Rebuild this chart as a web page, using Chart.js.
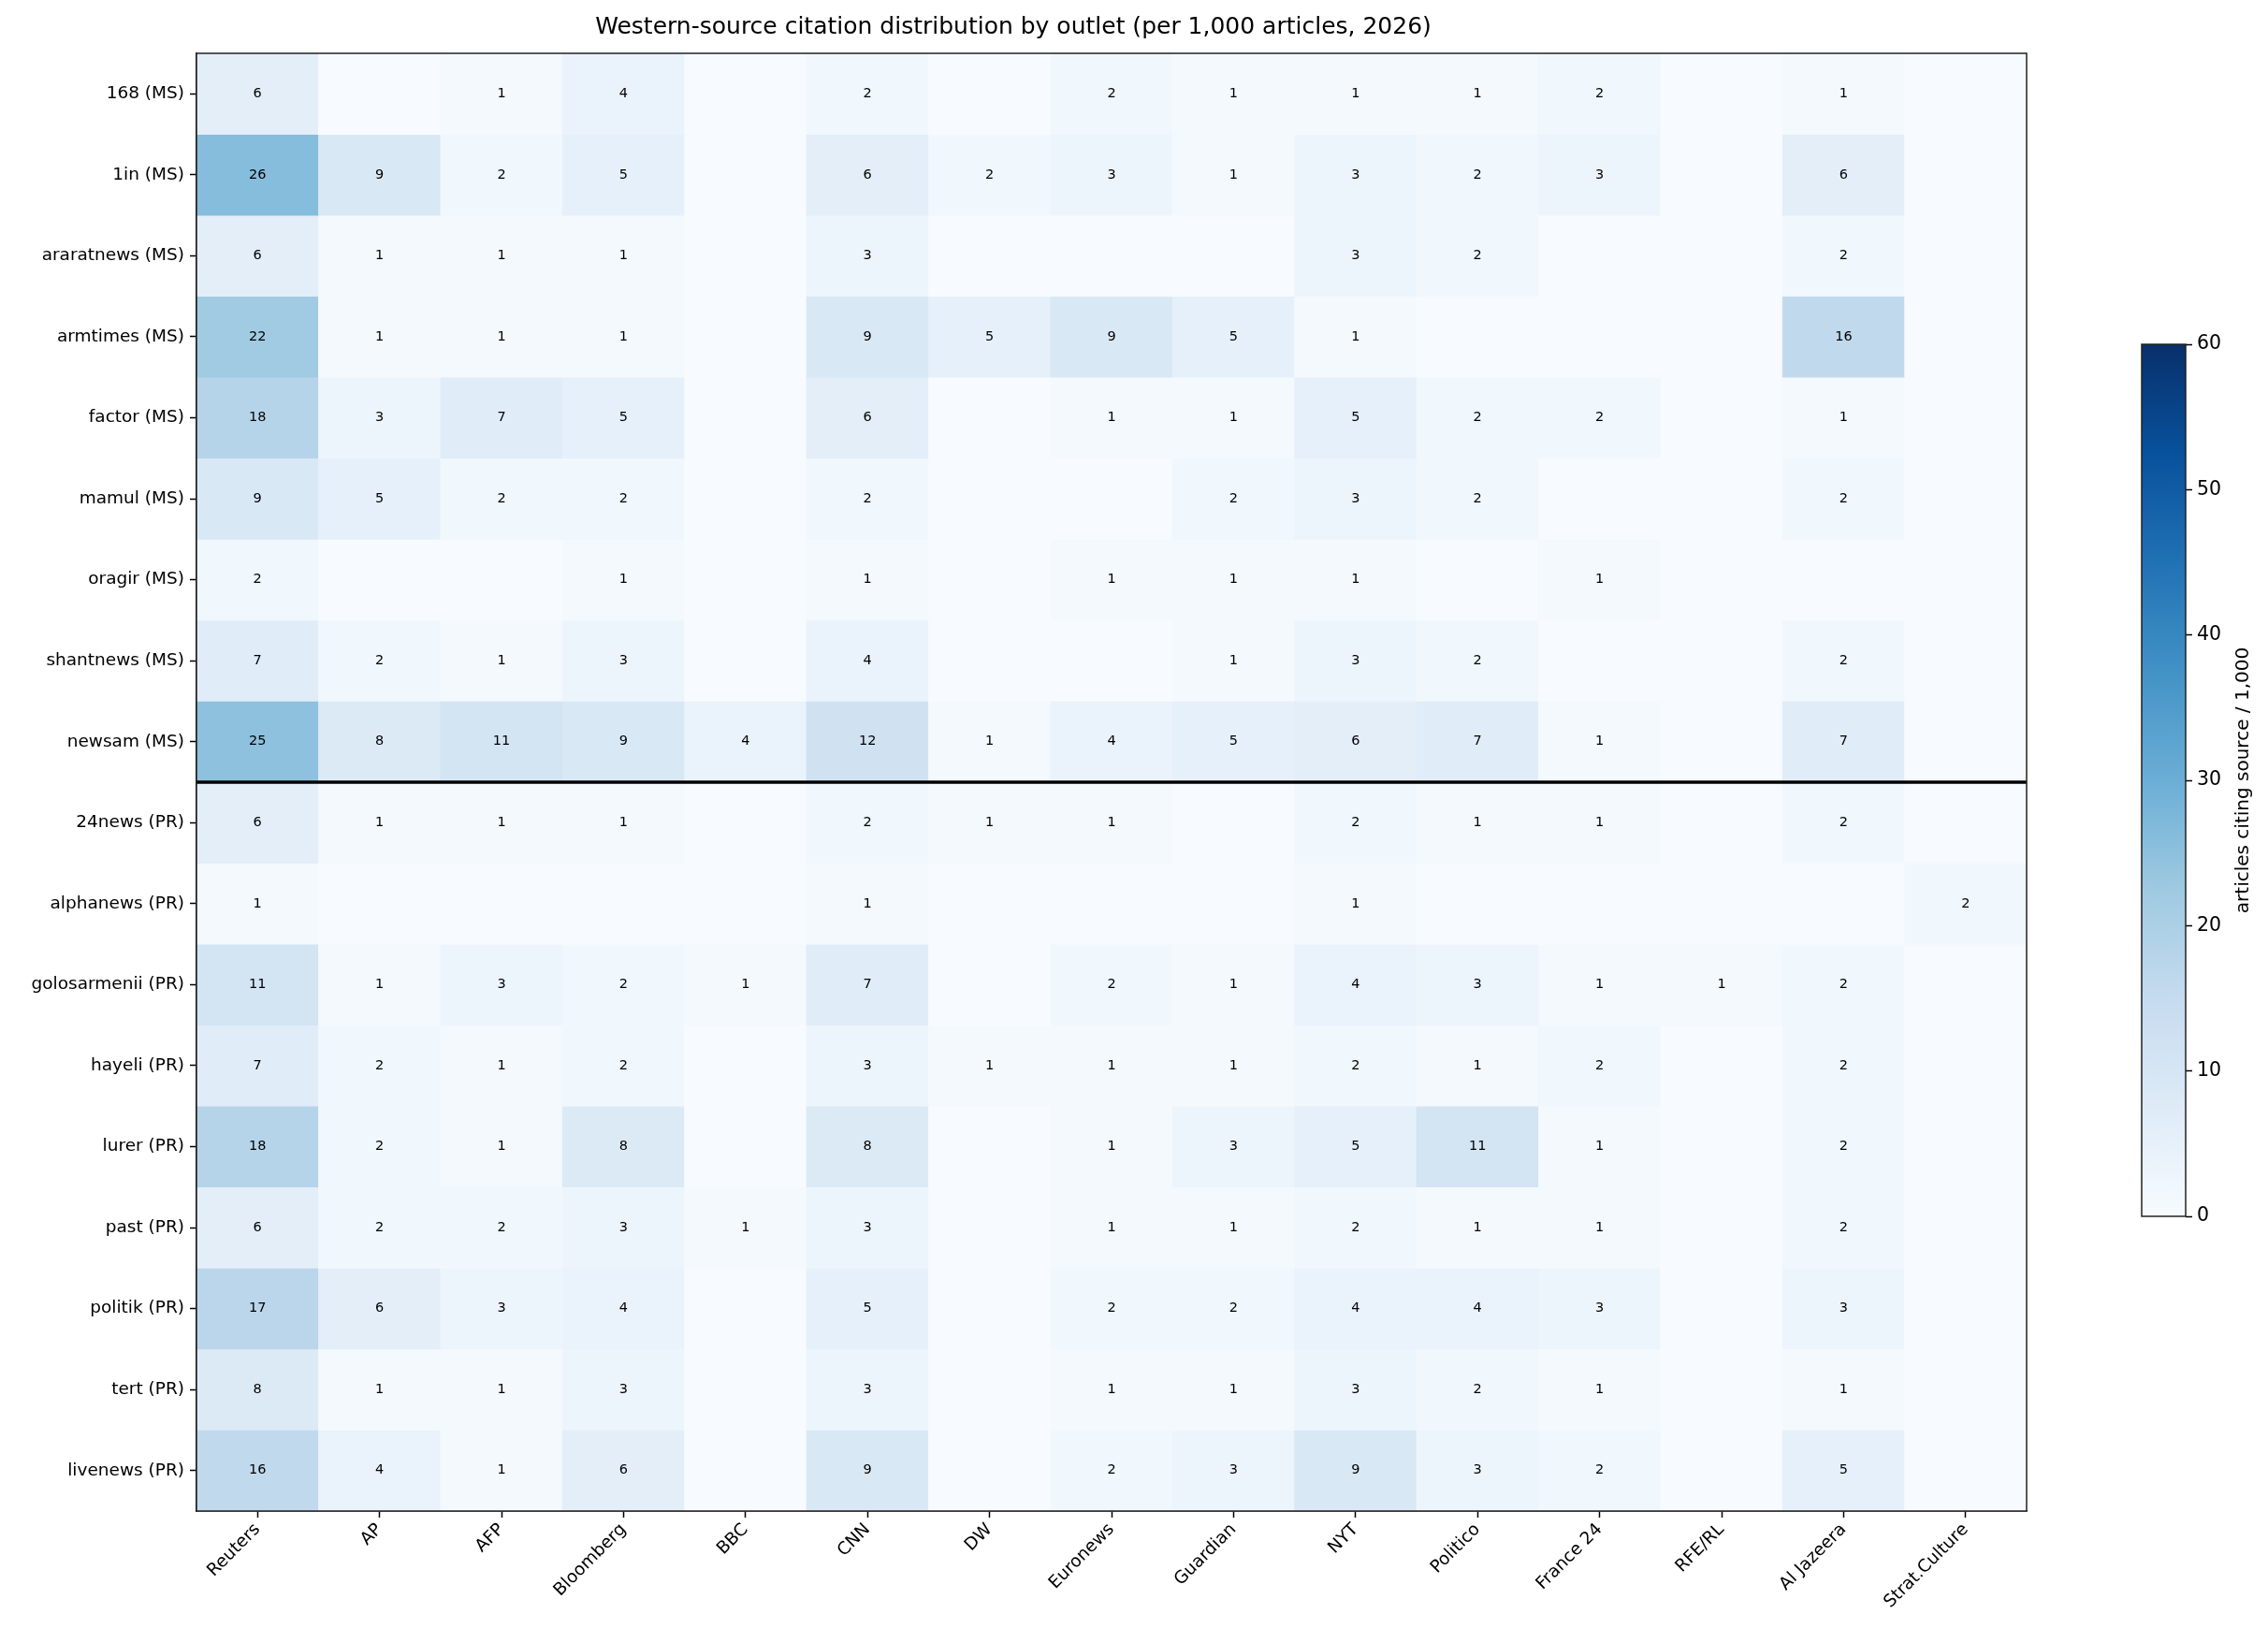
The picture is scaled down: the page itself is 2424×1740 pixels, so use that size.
<!DOCTYPE html>
<html>
<head>
<meta charset="utf-8">
<script src="https://cdn.jsdelivr.net/npm/chart.js@4.4.1/dist/chart.umd.min.js"></script>
<style>
  html, body { margin: 0; padding: 0; background: #fff; }
  #wrap { position: relative; width: 2424px; height: 1740px; }
  #main { position: absolute; left: 0; top: 0; width: 2424px; height: 1740px; }
  #cbar { position: absolute; left: 2280px; top: 350px; width: 144px; height: 970px; }
</style>
</head>
<body>
<div id="wrap">
  <div id="main"><canvas id="heatmap"></canvas></div>
  <div id="cbar"><canvas id="colorbar"></canvas></div>
</div>
<script>
const outlets = ['Reuters', 'AP', 'AFP', 'Bloomberg', 'BBC', 'CNN', 'DW', 'Euronews', 'Guardian',
  'NYT', 'Politico', 'France 24', 'RFE/RL', 'Al Jazeera', 'Strat.Culture'];

const sources = ['168 (MS)', '1in (MS)', 'araratnews (MS)', 'armtimes (MS)', 'factor (MS)', 'mamul (MS)',
  'oragir (MS)', 'shantnews (MS)', 'newsam (MS)', '24news (PR)', 'alphanews (PR)', 'golosarmenii (PR)',
  'hayeli (PR)', 'lurer (PR)', 'past (PR)', 'politik (PR)', 'tert (PR)', 'livenews (PR)'];

// citations per 1,000 articles, one row per source, columns in outlet order
const counts = [
  [6, 0, 1, 4, 0, 2, 0, 2, 1, 1, 1, 2, 0, 1, 0],
  [26, 9, 2, 5, 0, 6, 2, 3, 1, 3, 2, 3, 0, 6, 0],
  [6, 1, 1, 1, 0, 3, 0, 0, 0, 3, 2, 0, 0, 2, 0],
  [22, 1, 1, 1, 0, 9, 5, 9, 5, 1, 0, 0, 0, 16, 0],
  [18, 3, 7, 5, 0, 6, 0, 1, 1, 5, 2, 2, 0, 1, 0],
  [9, 5, 2, 2, 0, 2, 0, 0, 2, 3, 2, 0, 0, 2, 0],
  [2, 0, 0, 1, 0, 1, 0, 1, 1, 1, 0, 1, 0, 0, 0],
  [7, 2, 1, 3, 0, 4, 0, 0, 1, 3, 2, 0, 0, 2, 0],
  [25, 8, 11, 9, 4, 12, 1, 4, 5, 6, 7, 1, 0, 7, 0],
  [6, 1, 1, 1, 0, 2, 1, 1, 0, 2, 1, 1, 0, 2, 0],
  [1, 0, 0, 0, 0, 1, 0, 0, 0, 1, 0, 0, 0, 0, 2],
  [11, 1, 3, 2, 1, 7, 0, 2, 1, 4, 3, 1, 1, 2, 0],
  [7, 2, 1, 2, 0, 3, 1, 1, 1, 2, 1, 2, 0, 2, 0],
  [18, 2, 1, 8, 0, 8, 0, 1, 3, 5, 11, 1, 0, 2, 0],
  [6, 2, 2, 3, 1, 3, 0, 1, 1, 2, 1, 1, 0, 2, 0],
  [17, 6, 3, 4, 0, 5, 0, 2, 2, 4, 4, 3, 0, 3, 0],
  [8, 1, 1, 3, 0, 3, 0, 1, 1, 3, 2, 1, 0, 1, 0],
  [16, 4, 1, 6, 0, 9, 0, 2, 3, 9, 3, 2, 0, 5, 0]
];

const msCount = 9;          // first 9 rows are MS outlets, rest PR
const vmin = 0, vmax = 60;
const cbarTicks = [0, 10, 20, 30, 40, 50, 60];

// matplotlib "Blues"
const blues = ['#f7fbff', '#deebf7', '#c6dbef', '#9ecae1', '#6baed6', '#4292c6', '#2171b5', '#08519c', '#08306b'];

function hexToRgb(h) {
  return [parseInt(h.slice(1, 3), 16), parseInt(h.slice(3, 5), 16), parseInt(h.slice(5, 7), 16)];
}
function bluesColor(v) {
  let t = Math.min(1, Math.max(0, (v - vmin) / (vmax - vmin))) * (blues.length - 1);
  const i = Math.min(Math.floor(t), blues.length - 2);
  const f = t - i;
  const a = hexToRgb(blues[i]), b = hexToRgb(blues[i + 1]);
  const c = a.map((x, k) => Math.round(x + (b[k] - x) * f));
  return 'rgb(' + c.join(',') + ')';
}

const font = 'DejaVu Sans';
Chart.defaults.font.family = font;
Chart.defaults.color = '#000';

const datasets = counts.map((row, i) => ({
  label: sources[i],
  data: row.map(() => [i - 0.5, i + 0.5]),
  backgroundColor: row.map(v => bluesColor(v)),
  borderWidth: 0,
  borderSkipped: false,
  grouped: false,
  barPercentage: 1,
  categoryPercentage: 1
}));

const cellLabels = {
  id: 'cellLabels',
  afterDatasetsDraw(chart) {
    const ctx = chart.ctx;
    const area = chart.chartArea;
    ctx.save();
    ctx.font = '14.5px ' + font;
    ctx.fillStyle = '#000';
    ctx.textAlign = 'center';
    ctx.textBaseline = 'middle';
    chart.data.datasets.forEach((ds, i) => {
      chart.getDatasetMeta(i).data.forEach((bar, j) => {
        const v = counts[i][j];
        if (v > 0) ctx.fillText(String(v), bar.x, (bar.y + bar.base) / 2);
      });
    });
    // MS / PR separator
    const y = chart.scales.y.getPixelForValue(msCount - 0.5);
    ctx.strokeStyle = '#000';
    ctx.lineWidth = 3.5;
    ctx.beginPath();
    ctx.moveTo(area.left, y);
    ctx.lineTo(area.right, y);
    ctx.stroke();
    // frame
    ctx.lineWidth = 1.5;
    ctx.strokeStyle = '#222';
    ctx.strokeRect(area.left, area.top, area.right - area.left, area.bottom - area.top);
    ctx.restore();
  }
};

new Chart(document.getElementById('heatmap'), {
  type: 'bar',
  data: { labels: outlets, datasets: datasets },
  options: {
    responsive: true,
    maintainAspectRatio: false,
    animation: false,
    layout: { padding: { left: 0, right: 258, top: 0, bottom: 0 } },
    plugins: {
      legend: { display: false },
      tooltip: { enabled: false },
      title: {
        display: true,
        text: 'Western-source citation distribution by outlet (per 1,000 articles, 2026)',
        font: { size: 25, weight: 'normal' },
        color: '#000',
        padding: { top: 14, bottom: 13 }
      }
    },
    scales: {
      x: {
        type: 'category',
        offset: true,
        grid: { display: true, drawOnChartArea: false, offset: false, tickLength: 7, color: '#000', tickWidth: 1.5 },
        border: { display: true, color: '#222', width: 1.5 },
        ticks: { font: { size: 18.5 }, minRotation: 45, maxRotation: 45, padding: 2, autoSkip: false },
        afterFit(scale) { scale.height = 125; }
      },
      y: {
        type: 'linear',
        reverse: true,
        min: -0.5,
        max: sources.length - 0.5,
        afterBuildTicks(scale) { scale.ticks = sources.map((s, i) => ({ value: i })); },
        grid: { display: true, drawOnChartArea: false, tickLength: 7, color: '#000', tickWidth: 1.5 },
        border: { display: true, color: '#222', width: 1.5 },
        ticks: { font: { size: 18.5 }, padding: 6, autoSkip: false, callback: v => sources[v] },
        afterFit(scale) { scale.width = 210; }
      }
    }
  },
  plugins: [cellLabels]
});

const gradientFill = {
  id: 'gradientFill',
  beforeDatasetsDraw(chart) {
    const ctx = chart.ctx;
    const a = chart.chartArea;
    const g = ctx.createLinearGradient(0, a.bottom, 0, a.top);
    blues.forEach((c, i) => g.addColorStop(i / (blues.length - 1), c));
    ctx.save();
    ctx.fillStyle = g;
    ctx.fillRect(a.left, a.top, a.right - a.left, a.bottom - a.top);
    ctx.lineWidth = 1.5;
    ctx.strokeStyle = '#222';
    ctx.strokeRect(a.left, a.top, a.right - a.left, a.bottom - a.top);
    // colorbar label, bottom-to-top like matplotlib
    ctx.translate(118, (a.top + a.bottom) / 2);
    ctx.rotate(-Math.PI / 2);
    ctx.font = '20px ' + font;
    ctx.fillStyle = '#000';
    ctx.textAlign = 'center';
    ctx.textBaseline = 'middle';
    ctx.fillText('articles citing source / 1,000', 0, 0);
    ctx.restore();
  }
};

new Chart(document.getElementById('colorbar'), {
  type: 'bar',
  data: { labels: [''], datasets: [{ data: [], backgroundColor: 'transparent' }] },
  options: {
    responsive: true,
    maintainAspectRatio: false,
    animation: false,
    layout: { padding: { left: 9, top: 18, bottom: 20, right: 0 } },
    plugins: { legend: { display: false }, tooltip: { enabled: false } },
    scales: {
      x: { display: false },
      y: {
        position: 'right',
        min: vmin,
        max: vmax,
        afterBuildTicks(scale) { scale.ticks = cbarTicks.map(v => ({ value: v })); },
        grid: { display: true, drawOnChartArea: false, tickLength: 7, color: '#000', tickWidth: 1.5 },
        border: { display: false },
        ticks: { font: { size: 20.5 }, padding: 5 },
        afterFit(scale) { scale.width = 88; }
      }
    }
  },
  plugins: [gradientFill]
});
</script>
</body>
</html>
